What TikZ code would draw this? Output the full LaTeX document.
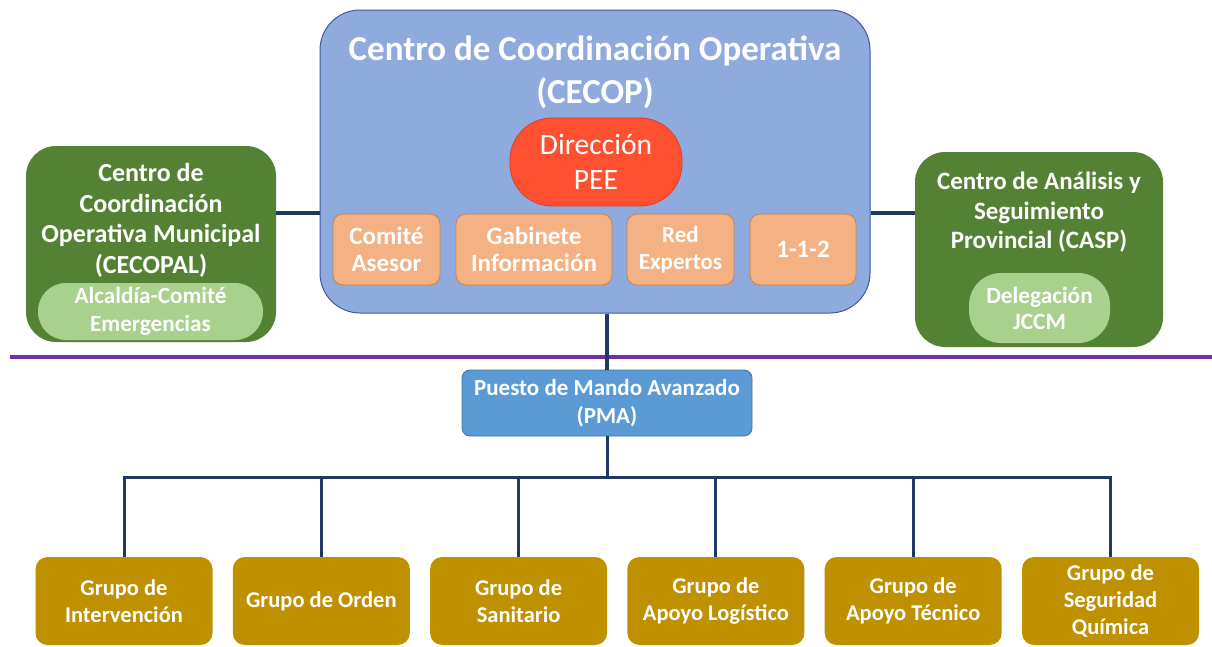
\documentclass[tikz,border=0pt]{standalone}
\usepackage{fontspec}
\setmainfont{Carlito}
\usepackage{xcolor}
\usepackage{tikz}

\definecolor{cecopblue}{RGB}{143,170,220}
\definecolor{cecopedge}{RGB}{60,90,160}
\definecolor{dirred}{RGB}{255,80,50}
\definecolor{diredge}{RGB}{225,60,40}
\definecolor{salmon}{RGB}{244,177,131}
\definecolor{salmonedge}{RGB}{200,130,80}
\definecolor{darkgreen}{RGB}{84,130,53}
\definecolor{lightgreen}{RGB}{169,209,142}
\definecolor{pmablue}{RGB}{91,155,213}
\definecolor{pmaedge}{RGB}{65,113,160}
\definecolor{gold}{RGB}{191,144,0}
\definecolor{linkblue}{RGB}{31,56,100}
\definecolor{sepurple}{RGB}{112,48,160}

\tikzset{
	box/.style={rounded corners=#1, inner sep=0pt, align=center, text=white},
	txt/.style 2 args={align=center, text=white, inner sep=0pt, font=\fontsize{#1}{#2}\selectfont\bfseries},
	link/.style={draw=linkblue, line width=3.5pt},
}

\begin{document}
\begin{tikzpicture}[x=1pt,y=-1pt]
				\useasboundingbox (0,0) rectangle (1212,646);
				
				% top centre
				\node[box=40pt, fill=cecopblue, draw=cecopedge, line width=1pt,
					minimum width=550pt, minimum height=303pt] (cecop) at (595,161.5) {};
				\node[txt={35}{43}] (cecoptit) at (595,72) {Centro de Coordinación Operativa\\(CECOP)};
				\node[box=42pt, fill=dirred, draw=diredge, line width=0.8pt,
					minimum width=172pt, minimum height=88pt,
					font=\fontsize{29.5}{35}\selectfont] (dir) at (596,162) {Dirección\\PEE};
				\foreach \x/\y/\w/\s/\t in
				{comite/386.5/107/25/Comité\\Asesor, gabinete/534/156/25/Gabinete\\Información,
				 red/680.5/107/23/Red\\Expertos, emerg/803/106/25/1-1-2}{
					\node[box=10pt, fill=salmon, draw=salmonedge, line width=0.8pt,
						minimum width=\w pt, minimum height=71pt,
						font=\fontsize{\s}{27}\selectfont\bfseries] (\x) at (\y,249.5) {\t};
				}
				
				% left
				\node[box=30pt, fill=darkgreen, minimum width=250pt, minimum height=196pt] (cecopal) at (151,244) {};
				\node[txt={26}{30.5}] (cecopaltit) at (151,220.5) {Centro de\\Coordinación\\Operativa Municipal\\(CECOPAL)};
				\node[box=28pt, fill=lightgreen, minimum width=225pt, minimum height=57pt,
					font=\fontsize{23.2}{28}\selectfont\bfseries] (alcaldia) at (150.5,311.5) {Alcaldía-Comité\\Emergencias};
				
				% right
				\node[box=30pt, fill=darkgreen, minimum width=248pt, minimum height=195pt] (casp) at (1039,249.5) {};
				\node[txt={25}{29.5}] (casptit) at (1039,212.5) {Centro de Análisis y\\Seguimiento\\Provincial (CASP)};
				\node[box=32pt, fill=lightgreen, minimum width=141pt, minimum height=70pt,
					font=\fontsize{23.3}{26}\selectfont\bfseries] (delegacion) at (1039.5,308) {Delegación\\JCCM};
				
				\coordinate (lnk) at (0,213);
				\draw[link] (cecopal.east |- lnk) -- (cecop.west |- lnk);
				\draw[link] (cecop.east |- lnk) -- (casp.west |- lnk);
				
				% separator
				\draw[sepurple, line width=4pt] (10,357) -- (1212,357);
				
				% field
				\node[box=8pt, fill=pmablue, draw=pmaedge, line width=0.8pt,
					minimum width=290pt, minimum height=66pt,
					font=\fontsize{23}{28}\selectfont\bfseries] (pma) at (607,403) {Puesto de Mando Avanzado\\(PMA)};
				\draw[link] (pma.north) -- (pma.north |- cecop.south);
				
				\foreach \x/\i/\t in
				{g1/0/Grupo de\\Intervención, g2/1/Grupo de Orden, g3/2/Grupo de\\Sanitario,
				 g4/3/Grupo de\\Apoyo Logístico, g5/4/Grupo de\\Apoyo Técnico, g6/5/Grupo de\\Seguridad\\Química}{
					\node[box=12pt, fill=gold, minimum width=177pt, minimum height=88pt,
						font=\fontsize{22.5}{27}\selectfont\bfseries] (\x) at (124+197.3*\i,601) {\t};
					\draw[link, line width=3pt] (pma.south) -- ++(0,41) -| (\x.north);
				}
			\end{tikzpicture}
\end{document}
